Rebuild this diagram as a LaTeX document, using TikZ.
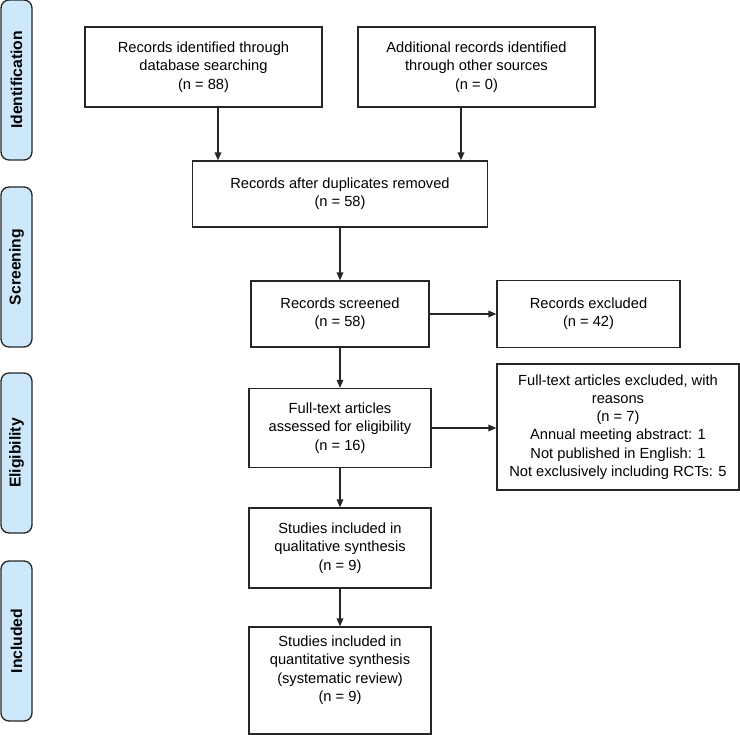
\documentclass[tikz,border=0pt]{standalone}
\usepackage{fontspec}
\setmainfont{Liberation Sans}
\usepackage{tikz}
\usetikzlibrary{arrows.meta}
\usetikzlibrary{positioning}
\usetikzlibrary{calc}
\definecolor{phaseblue}{HTML}{CDE8FB}
\tikzset{
	>={Triangle[length=6pt,width=5pt]},
	flowbox/.style={draw=black!85, line width=1pt, align=center, inner sep=2pt,
		font=\fontsize{11}{13.7}\selectfont},
	phasebar/.style={draw=black!85, line width=1pt, fill=phaseblue, rounded corners=6pt,
		rotate=90, minimum height=23.25pt, inner sep=0pt,
		font=\fontsize{11.8}{14}\selectfont\bfseries},
	flowarrow/.style={draw=black!85, line width=1pt, ->},
}
\begin{document}
\begin{tikzpicture}[x=.75pt, y=-.75pt]
		\useasboundingbox (0,0) rectangle (740,735);
		% phases on the left
		\node[phasebar, minimum width=120pt] (identification) at (16.5,80) {Identification};
		\node[phasebar, minimum width=120pt] (screening) at (16.5,267) {Screening};
		\node[phasebar, minimum width=120pt] (eligibility) at (16.5,453) {Eligibility};
		\node[phasebar, minimum width=120pt] (included) at (16.5,641) {Included};
		% boxes
		\node[flowbox, minimum width=177.75pt, minimum height=60pt] (dbsearch) at (203.5,67)
			{Records identified through\\database searching\\(n = 88)};
		\node[flowbox, minimum width=177.75pt, minimum height=60pt] (othersrc) at (476.5,67)
			{Additional records identified\\through other sources\\(n = 0)};
		\node[flowbox, minimum width=221.25pt, minimum height=49.5pt] (dupes) at (340,194)
			{Records after duplicates removed\\(n = 58)};
		\node[flowbox, minimum width=133.5pt, minimum height=49.5pt] (screened) at (340,314)
			{Records screened\\(n = 58)};
		\node[flowbox, minimum width=137.25pt, minimum height=50.25pt] (excluded) at (588.5,314)
			{Records excluded\\(n = 42)};
		\node[flowbox, minimum width=136.5pt, minimum height=59.25pt] (fulltext) at (340,428)
			{Full-text articles\\assessed for eligibility\\(n = 16)};
		\node[flowbox, minimum width=181.5pt, minimum height=94.5pt] (ftexcluded) at (618,427)
			{Full-text articles excluded, with\\reasons\\(n = 7)\\Annual meeting abstract: 1\\Not published in English: 1\\Not exclusively including RCTs: 5};
		\node[flowbox, minimum width=136.5pt, minimum height=60pt] (qualitative) at (340,548)
			{Studies included in\\qualitative synthesis\\(n = 9)};
		\node[flowbox, minimum width=136.5pt, minimum height=80.25pt] (quantitative) at (340,680.5)
			{Studies included in\\quantitative synthesis\\(systematic review)\\(n = 9)\\[4pt]};
		% arrows
		\coordinate (inL) at ($(dupes.north)+(-122,0)$);
		\coordinate (inR) at ($(dupes.north)+(121,0)$);
		\draw[flowarrow] (dbsearch.south -| inL) -- (inL);
		\draw[flowarrow] (othersrc.south -| inR) -- (inR);
		\draw[flowarrow] (dupes) -- (screened);
		\draw[flowarrow] (screened) -- (excluded);
		\draw[flowarrow] (screened) -- (fulltext);
		\draw[flowarrow] (fulltext) -- (ftexcluded.west |- fulltext);
		\draw[flowarrow] (fulltext) -- (qualitative);
		\draw[flowarrow] (qualitative) -- (quantitative);
\end{tikzpicture}
\end{document}
